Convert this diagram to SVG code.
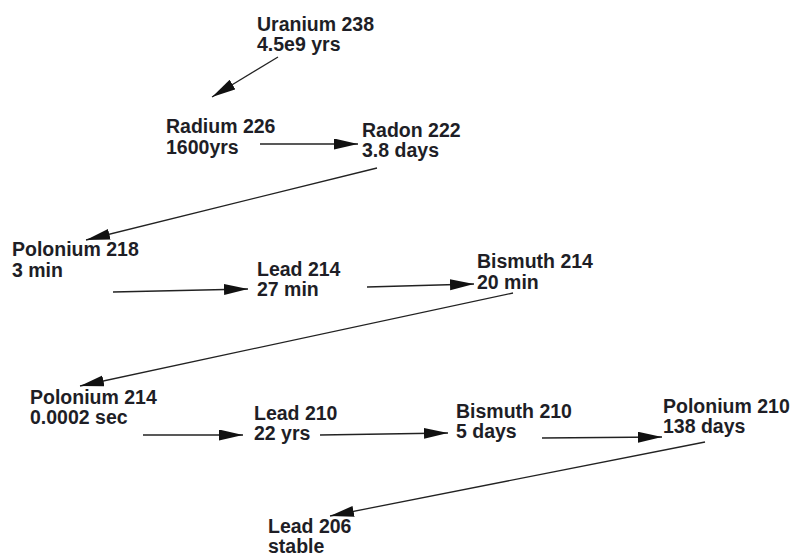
<svg xmlns="http://www.w3.org/2000/svg" width="792" height="557" viewBox="0 0 792 557">
<style>
text{font-family:"Liberation Sans",Arial,sans-serif;font-size:19.5px;font-weight:bold;fill:#1e1e26}
.c line{stroke:#222;stroke-width:1.3;fill:none;marker-end:url(#ah)}
</style>
<defs>
<marker id="ah" markerUnits="userSpaceOnUse" markerWidth="26" markerHeight="12" refX="24" refY="5.5" orient="auto">
<path d="M0,0 L24,5.5 L0,11 Z" fill="#111"/>
</marker>
</defs>
<rect width="792" height="557" fill="#fff"/>
<g class="c" id="connectors">
<line x1="278" y1="57" x2="212" y2="97"/>
<line x1="260" y1="144" x2="358" y2="144"/>
<line x1="377" y1="168" x2="86" y2="240"/>
<line x1="113" y1="292" x2="248" y2="289"/>
<line x1="367" y1="287" x2="474" y2="284"/>
<line x1="513" y1="293" x2="80" y2="386"/>
<line x1="143" y1="435" x2="243" y2="435"/>
<line x1="320" y1="435" x2="448" y2="433"/>
<line x1="542" y1="438" x2="662" y2="437"/>
<line x1="705" y1="442" x2="330" y2="516"/>
</g>
<g id="u238"><text x="257" y="31">Uranium 238</text><text x="257" y="51">4.5e9 yrs</text></g>
<g id="ra226"><text x="166" y="133">Radium 226</text><text x="166" y="154">1600yrs</text></g>
<g id="rn222"><text x="362" y="137">Radon 222</text><text x="362" y="157">3.8 days</text></g>
<g id="po218"><text x="12" y="256">Polonium 218</text><text x="12" y="277">3 min</text></g>
<g id="pb214"><text x="257" y="276">Lead 214</text><text x="257" y="296">27 min</text></g>
<g id="bi214"><text x="477" y="268">Bismuth 214</text><text x="477" y="289">20 min</text></g>
<g id="po214"><text x="30" y="404">Polonium 214</text><text x="30" y="424">0.0002 sec</text></g>
<g id="pb210"><text x="254" y="420">Lead 210</text><text x="254" y="440">22 yrs</text></g>
<g id="bi210"><text x="456" y="418">Bismuth 210</text><text x="456" y="438">5 days</text></g>
<g id="po210"><text x="663" y="413">Polonium 210</text><text x="663" y="433">138 days</text></g>
<g id="pb206"><text x="268" y="533">Lead 206</text><text x="268" y="553">stable</text></g>
</svg>
